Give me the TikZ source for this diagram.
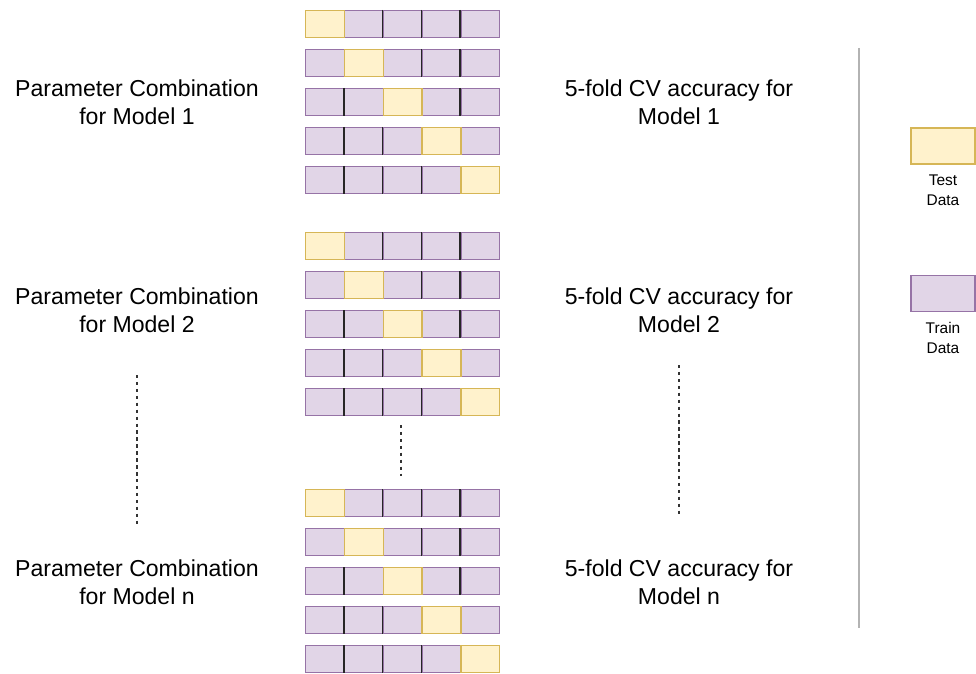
\documentclass[tikz,border=0pt]{standalone}
\usepackage{fontspec}
\setmainfont{Liberation Sans}
\usetikzlibrary{positioning}
\definecolor{trainfill}{HTML}{E1D5E7}
\definecolor{trainline}{HTML}{9673A6}
\definecolor{testfill}{HTML}{FFF2CC}
\definecolor{testline}{HTML}{D6B656}
\definecolor{sepgray}{HTML}{B3B3B3}

\begin{document}
\begin{tikzpicture}[x=0.75pt, y=-0.75pt,
    traincell/.style={
        draw=trainline,
        fill=trainfill,
        line width=1.1pt,
        minimum width=29.1pt,
        minimum height=20.25pt,
        inner sep=0pt,
        anchor=north west
    },
    testcell/.style={traincell, draw=testline, fill=testfill},
    divider/.style={line width=1.1pt, black!85},
    caption/.style={align=center, font=\fontsize{17.3}{21}\selectfont},
    legendtxt/.style={align=center, font=\fontsize{11.6}{15}\selectfont},
    legendbox/.style={draw=#1line, fill=#1fill, line width=1pt,
        minimum width=48pt, minimum height=27pt, inner sep=0pt},
    dots/.style={line width=1.1pt, dash pattern=on 2.6pt off 2.6pt, black!80}
]
\useasboundingbox (0,0) rectangle (976,674);

% === Folds: purple cells, dividers, then yellow test cells ===
\foreach \g/\top in {1/10, 2/232, 3/489} {
  \foreach \r in {0,...,4} {
    \foreach \c in {0,...,4} {
      \ifnum\c=\r\relax\else
        \node[traincell] (g\g r\r c\c) at ({305+38.8*\c}, {\top+39*\r}) {};
      \fi
    }
    \foreach \c in {1,...,4} {
      \pgfmathtruncatemacro\prev{\c-1}
      \ifnum\c=\r\relax\else\ifnum\prev=\r\relax\else
        \draw[divider] (g\g r\r c\c.north west) -- (g\g r\r c\c.south west);
      \fi\fi
    }
    \node[testcell] (g\g r\r c\r) at ({305+38.8*\r}, {\top+39*\r}) {};
  }
}

% === Left captions ===
\node[caption] (par1) at (137,102) {Parameter Combination\\for Model 1};
\node[caption] (par2) at (137,310.5) {Parameter Combination\\for Model 2};
\node[caption] (parn) at (137,582) {Parameter Combination\\for Model n};

% === Right captions ===
\node[caption] (acc1) at (679,102) {5-fold CV accuracy for\\Model 1};
\node[caption] (acc2) at (679,310.5) {5-fold CV accuracy for\\Model 2};
\node[caption] (accn) at (679,582) {5-fold CV accuracy for\\Model n};

% === Ellipsis lines ===
\coordinate (ldotA) at (137,375);
\coordinate (ldotB) at (137,527);
\coordinate (mdotA) at (401,425);
\coordinate (mdotB) at (401,476);
\coordinate (rdotA) at (679,365);
\coordinate (rdotB) at (679,517);
\draw[dots] (ldotA) -- (ldotB);
\draw[dots] (mdotA) -- (mdotB);
\draw[dots] (rdotA) -- (rdotB);

% === Separator ===
\coordinate (sepA) at (859,48);
\coordinate (sepB) at (859,628);
\draw[sepgray, line width=0.9pt] (sepA) -- (sepB);

% === Legend ===
\node[legendbox=test] (testkey) at (943,146) {};
\node[legendtxt, below=4pt of testkey] (testlbl) {Test\\Data};
\node[legendbox=train] (trainkey) at (943,293.5) {};
\node[legendtxt, below=4pt of trainkey] (trainlbl) {Train\\Data};

\end{tikzpicture}
\end{document}
